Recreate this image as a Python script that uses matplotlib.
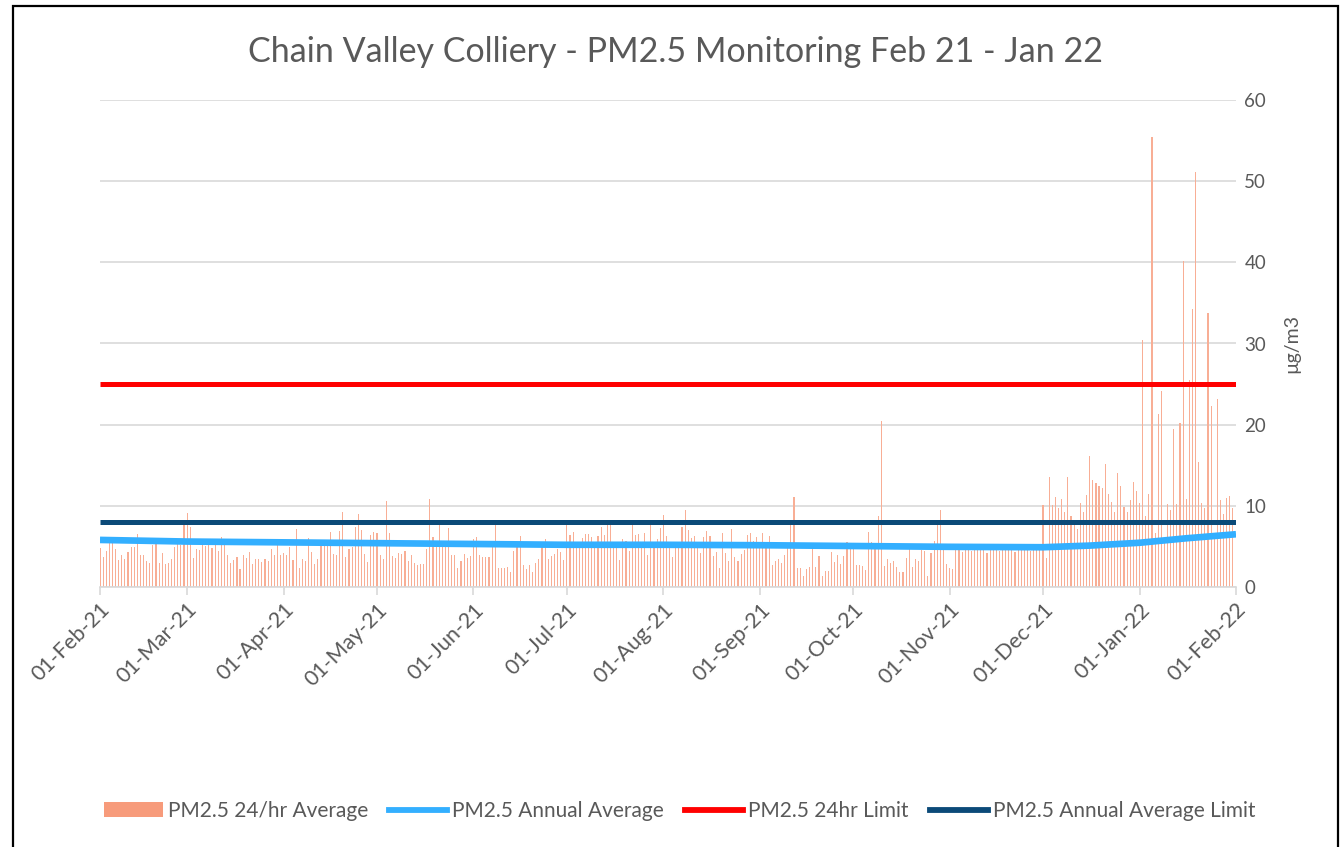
import matplotlib
matplotlib.use("Agg")
import matplotlib.pyplot as plt
import matplotlib.dates as mdates
from matplotlib.patches import Rectangle, Patch
from matplotlib.lines import Line2D
import numpy as np
import pandas as pd

plt.rcParams['font.family'] = ['Lato', 'DejaVu Sans']

# ---------------- data ----------------
title = "Chain Valley Colliery - PM2.5 Monitoring Feb 21 - Jan 22"
ylabel = "µg/m3"

feb21 = [4.8, 3.7, 4.4, 5.5, 5.4, 4.7, 3.3, 3.9, 3.4, 4.3, 4.9, 4.9, 6.5, 3.9, 4.0, 3.2, 3.0, 5.2, 5.4, 2.9,
         4.2, 2.8, 3.0, 3.4, 4.9, 5.6, 5.2, 7.8]
mar21 = [9.1, 7.4, 3.6, 4.7, 4.5, 5.5, 5.0, 5.8, 4.8, 5.3, 4.4, 6.2, 5.6, 3.9, 2.9, 3.3, 3.7, 2.2, 4.0, 3.6,
         4.3, 2.8, 3.5, 3.5, 3.1, 3.4, 3.2, 4.7, 3.9, 5.2, 3.9]
apr21 = [4.2, 3.9, 4.9, 3.3, 7.1, 2.4, 3.4, 3.2, 6.0, 4.3, 2.8, 3.4, 5.3, 5.6, 5.1, 6.8, 4.1, 3.9, 6.9, 9.2,
         3.7, 4.7, 4.9, 7.4, 9.0, 7.0, 4.1, 3.1, 6.4, 6.8]
may21 = [6.6, 3.9, 3.5, 10.6, 6.6, 3.8, 3.6, 4.2, 4.1, 4.4, 3.2, 3.9, 3.0, 2.7, 2.8, 2.8, 4.7, 10.8, 6.1, 5.0,
         7.7, 5.4, 5.6, 7.3, 3.9, 3.9, 2.3, 3.2, 4.1, 3.6, 3.8]
jun21 = [5.9, 6.1, 4.0, 3.7, 3.7, 3.7, 5.0, 7.7, 2.3, 2.4, 2.3, 2.5, 1.9, 4.4, 5.2, 6.3, 2.7, 2.2, 2.7, 1.9,
         3.0, 3.4, 5.0, 5.9, 3.4, 3.8, 4.1, 4.7, 4.3, 3.3]
jul21 = [7.7, 6.4, 6.8, 5.5, 5.0, 6.0, 6.5, 6.5, 6.1, 5.6, 6.3, 7.4, 6.4, 7.7, 7.7, 5.0, 5.0, 3.3, 5.9, 5.7,
         4.4, 7.7, 6.4, 6.5, 5.2, 6.7, 4.0, 7.7, 5.2, 5.9, 7.3]
aug21 = [8.9, 6.3, 5.2, 3.7, 5.2, 5.2, 7.4, 9.5, 7.0, 6.0, 6.3, 5.2, 4.2, 6.2, 6.9, 6.3, 3.8, 4.3, 2.3, 6.6,
         4.2, 3.2, 7.1, 3.7, 3.2, 4.1, 4.6, 6.4, 6.6, 5.7, 6.1]
sep21 = [5.2, 6.7, 5.2, 6.3, 2.7, 3.2, 3.5, 3.0, 4.0, 5.2, 7.8, 11.1, 2.3, 2.3, 1.4, 2.2, 2.5, 4.8, 2.5, 3.8,
         1.4, 2.0, 2.0, 4.3, 3.1, 3.9, 2.8, 3.8, 5.5, 4.7]
oct21 = [5.0, 2.7, 2.7, 2.6, 2.1, 6.8, 5.5, 5.0, 8.7, 20.4, 2.6, 3.4, 3.0, 3.2, 2.5, 1.8, 1.9, 3.6, 4.7, 2.5,
         3.5, 3.2, 4.6, 4.4, 1.4, 4.2, 5.7, 7.7, 9.5, 4.6, 2.8]
nov21 = [2.3, 2.2, 4.6, 4.9, 4.3, 5.0, 4.7, 4.4, 5.1, 4.8, 4.5, 4.9, 4.2, 4.7, 5.0, 4.6, 4.4, 4.8, 5.1, 4.5,
         4.7, 4.3, 4.9, 5.0, 4.6, 4.8, 4.4, 4.7, 5.0, 4.6]
dec21 = [10.1, 3.6, 13.5, 10.1, 11.1, 9.7, 10.9, 9.3, 13.6, 8.7, 8.0, 7.2, 10.3, 9.2, 11.3, 16.2, 13.2, 12.8,
         12.5, 12.2, 15.1, 11.5, 10.5, 9.2, 14.0, 12.4, 9.8, 9.2, 10.7, 12.9, 11.8]
jan22 = [10.4, 30.4, 8.7, 11.4, 55.4, 6.6, 21.3, 24.1, 6.0, 10.2, 9.5, 19.5, 10.2, 20.2, 40.2, 10.8, 25.5,
         34.3, 51.1, 15.4, 10.3, 9.7, 33.8, 22.3, 6.0, 23.2, 10.7, 9.0, 11.0, 11.2, 9.7]

daily_values = (feb21 + mar21 + apr21 + may21 + jun21 + jul21 + aug21 + sep21 +
                oct21 + nov21 + dec21 + jan22)
start_date = "2021-02-01"

annual_avg_dates = ["2021-02-01", "2021-03-01", "2021-04-01", "2021-05-01", "2021-06-01", "2021-07-01",
                    "2021-08-01", "2021-09-01", "2021-10-01", "2021-11-01", "2021-12-01", "2021-12-16",
                    "2022-01-01", "2022-01-16", "2022-02-01"]
annual_avg_values = [5.8, 5.6, 5.5, 5.4, 5.3, 5.2, 5.2, 5.15, 5.05, 4.95, 4.9, 5.1, 5.45, 6.0, 6.5]

limit_24hr = 25
limit_annual = 8

tick_dates = pd.date_range("2021-02-01", "2022-02-01", freq="MS")

# ---------------- figure ----------------
W, H = 1340, 847
fig = plt.figure(figsize=(W / 100, H / 100), dpi=100)
fig.patch.set_facecolor("white")

# outer frame
fig.patches.append(Rectangle((13 / W, -0.05), (1338 - 13) / W, 1.05 - 6 / H,
                             transform=fig.transFigure, fill=False, edgecolor="black",
                             linewidth=1.6, zorder=10))

left, right, top, bottom = 100, 1236, 100, 587
ax = fig.add_axes([left / W, 1 - bottom / H, (right - left) / W, (bottom - top) / H])

dates = pd.date_range(start_date, periods=len(daily_values), freq="D")
bar_color = "#F8AE95"
ax.bar(dates, daily_values, width=0.36, color=bar_color, align="center", zorder=2, linewidth=0)

ax.plot(pd.to_datetime(annual_avg_dates), annual_avg_values, color="#33AFFF", linewidth=4.8,
        solid_capstyle="butt", zorder=4)
x0, x1 = pd.Timestamp("2021-02-01"), pd.Timestamp("2022-02-01")
ax.plot([x0, x1], [limit_24hr, limit_24hr], color="#FF0000", linewidth=3.6, zorder=5,
        solid_capstyle="butt")
ax.plot([x0, x1], [limit_annual, limit_annual], color="#0B4A78", linewidth=3.6, zorder=5,
        solid_capstyle="butt")

ax.set_xlim(x0, x1)
ax.set_ylim(0, 60)
ax.set_yticks(range(0, 61, 10))
ax.yaxis.tick_right()
ax.yaxis.set_label_position("right")
ax.grid(axis="y", color="#D9D9D9", linewidth=1.2, zorder=0)
ax.set_axisbelow(True)
for s in ["top", "left", "right"]:
    ax.spines[s].set_visible(False)
ax.spines["bottom"].set_color("#D9D9D9")
ax.spines["bottom"].set_linewidth(1.2)

ax.set_xticks(tick_dates)
ax.xaxis.set_major_formatter(mdates.DateFormatter("%d-%b-%y"))
ax.tick_params(axis="x", colors="#D9D9D9", length=6, width=1.2, labelcolor="#595959",
               labelsize=15.5, pad=3)
ax.tick_params(axis="y", length=0, labelcolor="#595959", labelsize=13.5, pad=6)
for lab in ax.get_xticklabels():
    lab.set_rotation(45)
    lab.set_ha("right")
    lab.set_va("top")
    lab.set_rotation_mode("anchor")

ax.set_ylabel(ylabel, color="#595959", fontsize=14, labelpad=12)

fig.text(676 / W, 1 - 52 / H, title, ha="center", va="center", color="#595959", fontsize=24.5)

handles = [Patch(facecolor="#F79B7B", edgecolor="none"),
           Line2D([], [], color="#33AFFF", linewidth=4.2),
           Line2D([], [], color="#FF0000", linewidth=4.2),
           Line2D([], [], color="#0B4A78", linewidth=4.2)]
labels = ["PM2.5 24/hr Average", "PM2.5 Annual Average", "PM2.5 24hr Limit", "PM2.5 Annual Average Limit"]
leg = fig.legend(handles, labels, loc="center", bbox_to_anchor=(680 / W, 1 - 811 / H), ncol=4,
                 frameon=False, fontsize=15, handlelength=2.8, handletextpad=0.25, columnspacing=1.0,
                 labelcolor="#595959")

fig.savefig("out.png", dpi=100)
